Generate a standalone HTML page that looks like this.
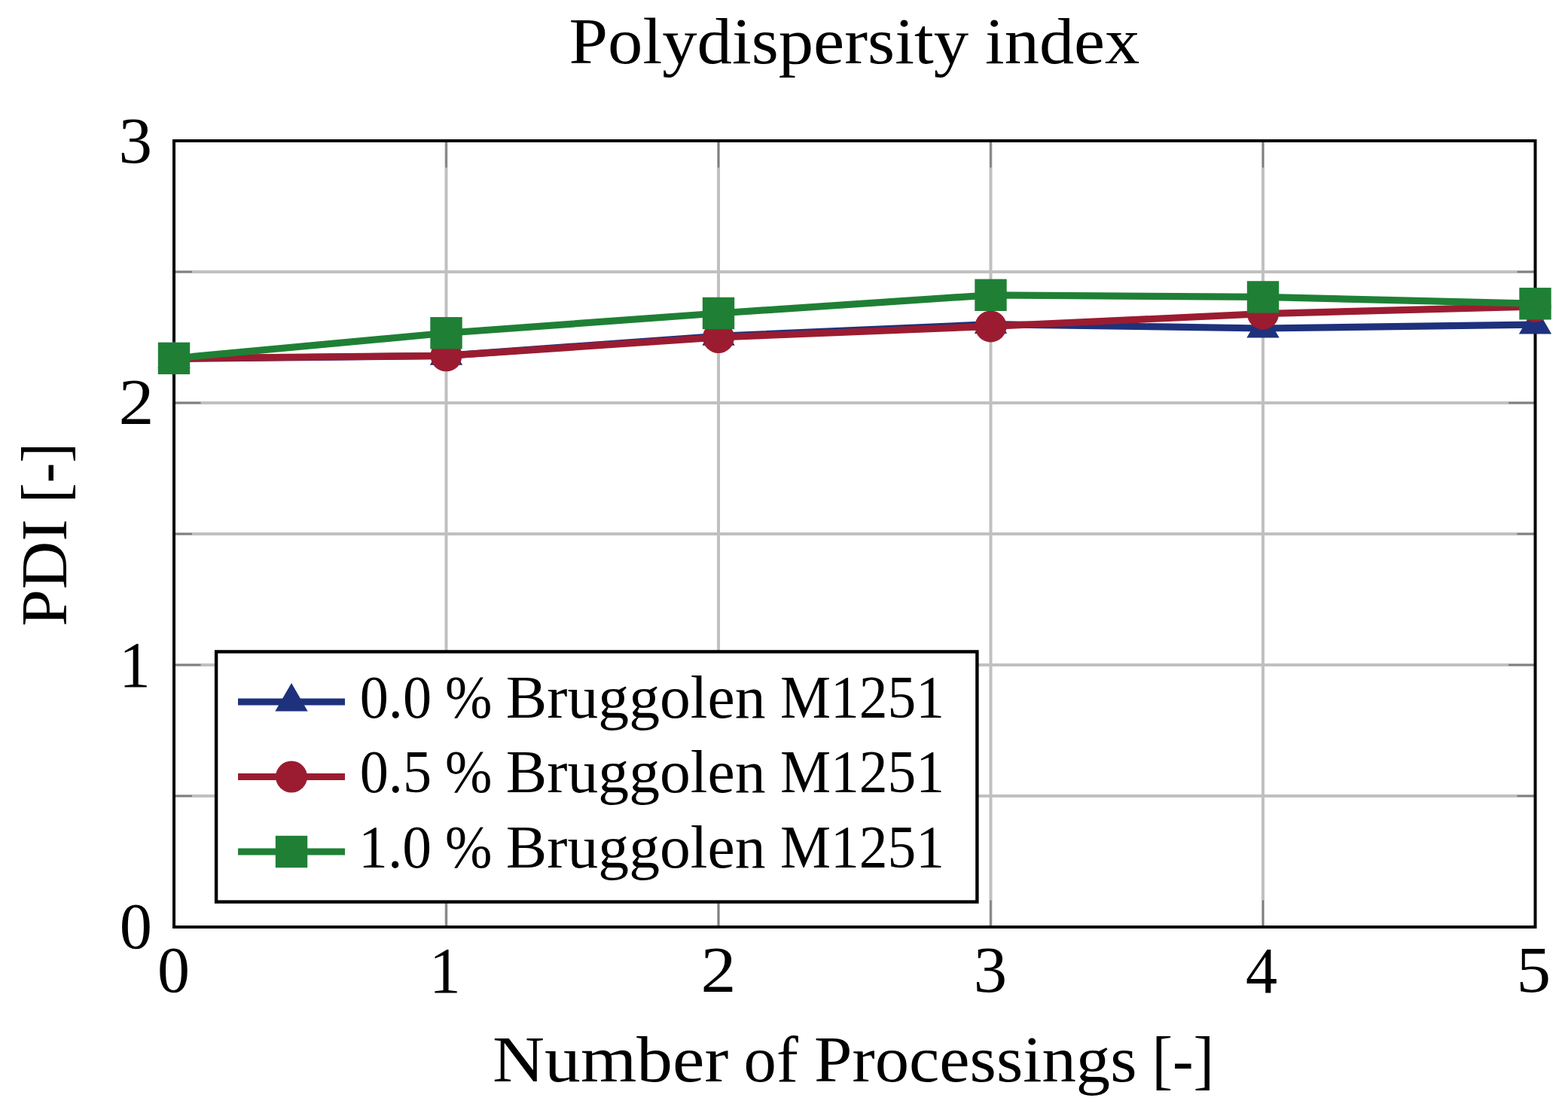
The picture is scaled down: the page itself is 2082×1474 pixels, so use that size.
<!DOCTYPE html>
<html><head><meta charset="utf-8"><title>Polydispersity index</title><style>
html,body{margin:0;padding:0;background:#fff;width:2082px;height:1474px;overflow:hidden;}
svg{display:block;}
text{font-family:"Liberation Serif",serif;fill:#000;}
</style></head><body>
<svg width="2082" height="1474" viewBox="0 0 2082 1474">
<rect x="0" y="0" width="2082" height="1474" fill="#fff"/>
<path d="M592.50 187.00V1231.00M954.00 187.00V1231.00M1315.50 187.00V1231.00M1677.00 187.00V1231.00M231.00 1057.00H2038.50M231.00 883.00H2038.50M231.00 709.00H2038.50M231.00 535.00H2038.50M231.00 361.00H2038.50" stroke="#c0c0c0" stroke-width="4" fill="none"/>
<path d="M592.50 187.00v35.5M592.50 1231.00v-35.5M954.00 187.00v35.5M954.00 1231.00v-35.5M1315.50 187.00v35.5M1315.50 1231.00v-35.5M1677.00 187.00v35.5M1677.00 1231.00v-35.5M231.00 1057.00h24M2038.50 1057.00h-24M231.00 883.00h35.5M2038.50 883.00h-35.5M231.00 709.00h24M2038.50 709.00h-24M231.00 535.00h35.5M2038.50 535.00h-35.5M231.00 361.00h24M2038.50 361.00h-24" stroke="#7f7f7f" stroke-width="2.4" fill="none"/>
<rect x="231.0" y="187.0" width="1807.5" height="1044.0" fill="none" stroke="#000" stroke-width="4"/>
<polyline points="231.00,476.54 592.50,472.36 954.00,446.26 1315.50,430.60 1677.00,435.99 2038.50,431.12" fill="none" stroke="#1e317c" stroke-width="9.2" stroke-linejoin="miter"/>
<path d="M231.00 451.54L252.65 489.04L209.35 489.04Z" fill="#1e317c"/>
<path d="M592.50 447.36L614.15 484.86L570.85 484.86Z" fill="#1e317c"/>
<path d="M954.00 421.26L975.65 458.76L932.35 458.76Z" fill="#1e317c"/>
<path d="M1315.50 405.60L1337.15 443.10L1293.85 443.10Z" fill="#1e317c"/>
<path d="M1677.00 410.99L1698.65 448.49L1655.35 448.49Z" fill="#1e317c"/>
<path d="M2038.50 406.12L2060.15 443.62L2016.85 443.62Z" fill="#1e317c"/>
<polyline points="231.00,475.84 592.50,472.36 954.00,448.00 1315.50,433.38 1677.00,416.68 2038.50,406.94" fill="none" stroke="#9b1c31" stroke-width="9.2" stroke-linejoin="miter"/>
<circle cx="231.00" cy="475.84" r="21" fill="#9b1c31"/>
<circle cx="592.50" cy="472.36" r="21" fill="#9b1c31"/>
<circle cx="954.00" cy="448.00" r="21" fill="#9b1c31"/>
<circle cx="1315.50" cy="433.38" r="21" fill="#9b1c31"/>
<circle cx="1677.00" cy="416.68" r="21" fill="#9b1c31"/>
<circle cx="2038.50" cy="406.94" r="21" fill="#9b1c31"/>
<polyline points="231.00,475.84 592.50,442.26 954.00,415.98 1315.50,391.80 1677.00,394.41 2038.50,403.28" fill="none" stroke="#1f8035" stroke-width="9.2" stroke-linejoin="miter"/>
<rect x="209.80" y="454.64" width="42.40" height="42.40" fill="#1f8035"/>
<rect x="571.30" y="421.06" width="42.40" height="42.40" fill="#1f8035"/>
<rect x="932.80" y="394.78" width="42.40" height="42.40" fill="#1f8035"/>
<rect x="1294.30" y="370.60" width="42.40" height="42.40" fill="#1f8035"/>
<rect x="1655.80" y="373.21" width="42.40" height="42.40" fill="#1f8035"/>
<rect x="2017.30" y="382.08" width="42.40" height="42.40" fill="#1f8035"/>
<rect x="287.1" y="865.4" width="1010.30" height="332.20" fill="#fff" stroke="#000" stroke-width="4.4"/>
<path d="M316 932H458" stroke="#1e317c" stroke-width="9.2" fill="none"/>
<path d="M387.00 907.00L408.65 944.50L365.35 944.50Z" fill="#1e317c"/>
<path d="M316 1031.5H458" stroke="#9b1c31" stroke-width="9.2" fill="none"/>
<circle cx="387.00" cy="1031.50" r="21" fill="#9b1c31"/>
<path d="M316 1131H458" stroke="#1f8035" stroke-width="9.2" fill="none"/>
<rect x="365.80" y="1109.80" width="42.40" height="42.40" fill="#1f8035"/>
<text x="477.74" y="952.80" font-size="80" textLength="95.32" lengthAdjust="spacingAndGlyphs">0.0</text>
<text x="590.99" y="952.80" font-size="80" textLength="62.38" lengthAdjust="spacingAndGlyphs">%</text>
<text x="671.86" y="952.80" font-size="80" textLength="344.79" lengthAdjust="spacingAndGlyphs">Bruggolen</text>
<text x="1035.91" y="952.80" font-size="80" textLength="217.99" lengthAdjust="spacingAndGlyphs">M1251</text>
<text x="477.74" y="1052.40" font-size="80" textLength="95.32" lengthAdjust="spacingAndGlyphs">0.5</text>
<text x="590.99" y="1052.40" font-size="80" textLength="62.38" lengthAdjust="spacingAndGlyphs">%</text>
<text x="671.86" y="1052.40" font-size="80" textLength="344.79" lengthAdjust="spacingAndGlyphs">Bruggolen</text>
<text x="1035.91" y="1052.40" font-size="80" textLength="217.99" lengthAdjust="spacingAndGlyphs">M1251</text>
<text x="476.11" y="1152.00" font-size="80" textLength="97.00" lengthAdjust="spacingAndGlyphs">1.0</text>
<text x="590.99" y="1152.00" font-size="80" textLength="62.38" lengthAdjust="spacingAndGlyphs">%</text>
<text x="671.86" y="1152.00" font-size="80" textLength="344.79" lengthAdjust="spacingAndGlyphs">Bruggolen</text>
<text x="1035.91" y="1152.00" font-size="80" textLength="217.99" lengthAdjust="spacingAndGlyphs">M1251</text>
<text x="157.56" y="215.50" font-size="86" textLength="44.55" lengthAdjust="spacingAndGlyphs">3</text>
<text x="157.52" y="562.80" font-size="86" textLength="47.05" lengthAdjust="spacingAndGlyphs">2</text>
<text x="158.25" y="911.90" font-size="86" textLength="41.47" lengthAdjust="spacingAndGlyphs">1</text>
<text x="158.88" y="1259.00" font-size="86" textLength="43.23" lengthAdjust="spacingAndGlyphs">0</text>
<text x="208.90" y="1317.30" font-size="86" textLength="43.00" lengthAdjust="spacingAndGlyphs">0</text>
<text x="570.10" y="1317.60" font-size="86" textLength="41.75" lengthAdjust="spacingAndGlyphs">1</text>
<text x="930.53" y="1317.30" font-size="86" textLength="46.98" lengthAdjust="spacingAndGlyphs">2</text>
<text x="1292.77" y="1317.30" font-size="86" textLength="44.43" lengthAdjust="spacingAndGlyphs">3</text>
<text x="1653.94" y="1317.60" font-size="86" textLength="42.14" lengthAdjust="spacingAndGlyphs">4</text>
<text x="2013.59" y="1317.30" font-size="86" textLength="45.70" lengthAdjust="spacingAndGlyphs">5</text>
<text x="755.57" y="84.00" font-size="87" textLength="530.50" lengthAdjust="spacingAndGlyphs">Polydispersity</text>
<text x="1308.08" y="84.00" font-size="87" textLength="205.20" lengthAdjust="spacingAndGlyphs">index</text>
<text x="654.10" y="1436.40" font-size="87" textLength="313.20" lengthAdjust="spacingAndGlyphs">Number</text>
<text x="987.61" y="1436.40" font-size="87" textLength="72.17" lengthAdjust="spacingAndGlyphs">of</text>
<text x="1081.01" y="1436.40" font-size="87" textLength="428.55" lengthAdjust="spacingAndGlyphs">Processings</text>
<text x="1529.39" y="1436.40" font-size="87" textLength="82.75" lengthAdjust="spacingAndGlyphs">[-]</text>
<g transform="translate(87.5 829.6) rotate(-90)">
<text x="-2.06" y="0.00" font-size="86" textLength="142.40" lengthAdjust="spacingAndGlyphs">PDI</text>
<text x="161.62" y="0.00" font-size="86" textLength="79.88" lengthAdjust="spacingAndGlyphs">[-]</text>
</g>
</svg>
</body></html>
